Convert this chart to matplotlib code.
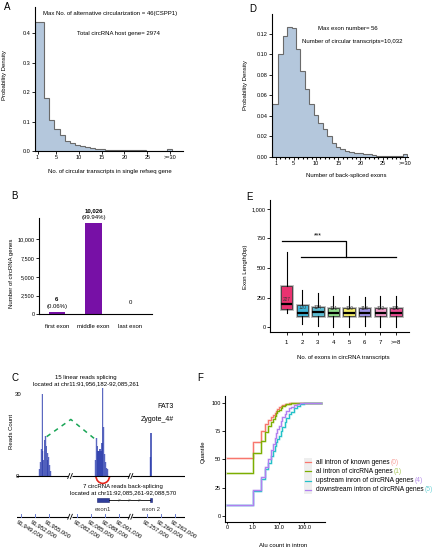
import numpy as np
import matplotlib
matplotlib.use('Agg')
import matplotlib.pyplot as plt
from matplotlib.patches import Rectangle, Arc
from matplotlib.lines import Line2D
import matplotlib.patheffects as pe

plt.rcParams['font.family'] = ['Liberation Sans', 'DejaVu Sans']
plt.rcParams['axes.linewidth'] = 0.8

W, H = 438, 553

# ---------------- data ----------------
# A: circular transcripts per refseq gene (26 bins, last one is >=30)
a_density = [0.439, 0.179, 0.104, 0.074, 0.054, 0.034, 0.026, 0.020, 0.017, 0.012,
             0.009, 0.007, 0.006, 0.005, 0.004, 0.004, 0.003, 0.003, 0.002, 0.002,
             0.002, 0.001, 0.001, 0.001, 0.001, 0.006]
a_ticks = [1, 5, 10, 15, 20, 25, 30]
a_ticklabels = ['1', '5', '10', '15', '20', '25', '>=30']

# D: back-spliced exons per circRNA (1..29, >=30)
d_density = [0.052, 0.100, 0.118, 0.127, 0.126, 0.105, 0.084, 0.066, 0.052, 0.041,
             0.033, 0.027, 0.020, 0.014, 0.010, 0.008, 0.006, 0.005, 0.004, 0.004,
             0.003, 0.003, 0.002, 0.0012, 0.001, 0.001, 0.001, 0.001, 0.0008, 0.003]
d_ticks = [1, 5, 10, 15, 20, 25, 30]
d_ticklabels = ['1', '5', '10', '15', '20', '25', '>=30']

# B: position of circularized exons
b_categories = ['first exon', 'middle exon', 'last exon']
b_heights = [350, 12200, 0]
b_counts = ['6', '10,026', '0']
b_pcts = ['(0.06%)', '(99.94%)', '']

# E: exon length by number of exons in circRNA
e_labels = ['1', '2', '3', '4', '5', '6', '7', '>=8']
e_whislo = [116, 25, 11, 3, 3, 12, 3, 0]
e_q1 = [150, 94, 94, 92, 92, 93, 92, 92]
e_med = [192, 122, 124, 121, 120, 121, 121, 121]
e_q3 = [347, 184, 167, 164, 164, 164, 164, 164]
e_whishi = [638, 313, 290, 263, 263, 255, 263, 263]
e_means = ['227', '120', '124', '121', '120', '118', '122', '121']
e_colors = ['#ea3370', '#3fb5d8', '#5cbcd2', '#8fdc8a', '#f2ec68', '#9d91e6', '#f39ac8', '#e94c92']

# C: FAT3 coverage track (genomic coordinates on chr11)
c_windows = [(91948200, 91959560), (92080440, 92093400), (92253530, 92265200)]
c_cov_pos = [91953000, 91953215, 91953430, 91953600, 91953750, 91953965, 91954140,
             91954300, 91954470, 91954640, 91954820, 91955000, 91955190, 91955400,
             92085900, 92086070, 92086265, 92086435, 92086650, 92086865, 92087080,
             92087290, 92087465, 92087635, 92087830, 92088040, 92088255, 92088470,
             92257800, 92257910]
c_cov_h = [2.5, 5, 10, 30, 9, 6, 13, 14.5, 11, 6, 8.4, 7, 4, 2,
           6, 14, 11, 9, 9, 10, 9, 12, 32.3, 18, 8, 5, 3, 2.5,
           7, 15.7]
c_linear_junction = (91954560, 92085790)
c_linear_arc_h = [14.4, 20.7, 13.5]
c_backsplice = (92086000, 92088900)
c_exons = [(92086160, 92088860), (92257650, 92258080)]
c_ticks = [91949000, 91952000, 91955000, 92082000, 92085000, 92088000, 92091000,
           92257000, 92260000, 92263000]

# F: cumulative Alu count in introns
f_x = [0, 1, 2, 3, 4, 5, 6, 7, 8, 9, 10, 12, 14, 17, 20, 25, 30, 40, 50, 70, 100, 150, 250, 450]
f_known = [51, 65.6, 75, 81, 84.8, 87.2, 89.3, 91.2, 93, 94.8, 96, 97.2, 98, 98.7, 99.1,
           99.4, 99.6, 99.8, 99.9, 99.95, 100, 100, 100, 100]
f_circ = [38.3, 55.4, 66.3, 74, 79.8, 82.7, 85.5, 88.5, 90.8, 92.5, 94, 95.8, 97, 98,
          98.7, 99.2, 99.5, 99.75, 99.9, 99.95, 100, 100, 100, 100]
f_up = [9.4, 22.4, 32.7, 41.5, 46.5, 53.3, 57.5, 61.5, 65, 68, 71, 75.5, 79, 83,
        86.3, 89.8, 92.3, 95.5, 97.3, 99, 99.7, 100, 100, 100]
f_down = [9.4, 23, 34.7, 43.6, 50.4, 58.3, 63.5, 68.5, 73, 76.5, 79.5, 84, 87.3, 90.5,
          92.8, 95.3, 96.7, 98.3, 99.1, 99.8, 99.95, 100, 100, 100]
f_names = ['all intron of known genes', 'al intron of circRNA genes',
           'upstream inron of circRNA genes', 'downstream intron of circRNA genes']
f_tags = ['(0)', '(1)', '(4)', '(5)']

# ---------------- helpers ----------------
fig = plt.figure(figsize=(W / 100, H / 100), dpi=100)


def px_axes(l, t, r, b):
    return fig.add_axes([l / W, 1 - b / H, (r - l) / W, (b - t) / H])


def ftext(x, y, s, **kw):
    kw.setdefault('ha', 'center')
    kw.setdefault('va', 'center')
    kw.setdefault('fontsize', 4.3)
    return fig.text(x / W, 1 - y / H, s, **kw)


def style(ax):
    for s in ['top', 'right']:
        ax.spines[s].set_visible(False)
    ax.tick_params(labelsize=4, length=2, width=0.6, pad=1.2)


hist_fill = '#b4c7dc'
hist_edge = '#6a6a6a'

# ---------------- A ----------------
axA = px_axes(35, 7, 183, 151)
style(axA)
a_x0 = 0.42
a_edges = np.r_[a_x0, 1.33 + 1.115 * np.arange(1, len(a_density) + 1)]
axA.stairs(a_density, a_edges, fill=True, color=hist_fill)
axA.stairs(a_density, a_edges, color=hist_edge, lw=0.8)
axA.set_xlim(a_x0, 32.8)
axA.set_ylim(0, 0.49)
axA.set_xticks(a_ticks, a_ticklabels)
axA.set_yticks([0, 0.1, 0.2, 0.3, 0.4], ['0.0', '0.1', '0.2', '0.3', '0.4'])
ftext(110, 14, 'Max No. of alternative circularization = 46(CSPP1)', fontsize=4.3)
ftext(118, 33, 'Total circRNA host gene= 2974', fontsize=4.3)
ftext(110, 172, 'No. of circular transcripts in single refseq gene')
ftext(5, 75, 'Probability Density', rotation=90)
ftext(7.5, 7, 'A', fontsize=7)

# ---------------- D ----------------
axD = px_axes(272, 14, 408, 157)
style(axD)
d_edges = np.r_[0.1, np.arange(1.5, len(d_density) + 1.5)]
axD.stairs(d_density, d_edges, fill=True, color=hist_fill)
axD.stairs(d_density, d_edges, color=hist_edge, lw=0.8)
axD.set_xlim(0.1, 30.7)
axD.set_ylim(0, 0.1395)
axD.set_xticks(d_ticks, d_ticklabels)
axD.set_xticks(range(1, len(d_density) + 1), minor=True)
axD.tick_params(which='minor', length=1.5, width=0.8)
yt = [0, 0.02, 0.04, 0.06, 0.08, 0.10, 0.12]
axD.set_yticks(yt, ['%.2f' % v for v in yt])
ftext(348, 28, 'Max exon number= 56', fontsize=4.3)
ftext(352, 41.5, 'Number of circular transcripts=10,032', fontsize=4.3)
ftext(346, 175.5, 'Number of back-spliced exons')
ftext(246, 85, 'Probability Density', rotation=90)
ftext(252.5, 8.5, 'D', fontsize=7)

# ---------------- B ----------------
axB = px_axes(39, 218, 152, 314.3)
style(axB)
bx = np.arange(len(b_categories))
axB.bar(bx, b_heights, width=0.44, color='#7710a6')
axB.set_xlim(-0.49, 2.6)
axB.set_ylim(0, 12840)
axB.set_xticks(bx, b_categories)
axB.tick_params(axis='x', length=0, pad=7, labelsize=4.3)
axB.set_yticks([0, 2500, 5000, 7500, 10000], ['0', '2,500', '5,000', '7,500', '10,000'])
for i in bx:
    axB.annotate(b_counts[i], (bx[i], b_heights[i]), xytext=(0, 8.7), textcoords='offset points',
                 ha='center', va='center', fontsize=4.3,
                 fontweight='bold' if b_heights[i] > 0 else 'normal', annotation_clip=False)
    if b_pcts[i]:
        axB.annotate(b_pcts[i], (bx[i], b_heights[i]), xytext=(0, 3.8), textcoords='offset points',
                     ha='center', va='center', fontsize=4.3, annotation_clip=False)
ftext(12, 273, 'Number of circRNA genes', rotation=90)
ftext(14, 196, 'B', fontsize=7)

# ---------------- E ----------------
axE = px_axes(270, 200, 409, 332)
style(axE)
stats = [dict(whislo=e_whislo[i], q1=e_q1[i], med=e_med[i], q3=e_q3[i],
              whishi=e_whishi[i], fliers=[]) for i in range(len(e_labels))]
epos = np.arange(1, len(e_labels) + 1)
bp = axE.bxp(stats, positions=epos, widths=0.74, patch_artist=True, showcaps=False,
             boxprops=dict(edgecolor='#3a3a3a', linewidth=0.6),
             medianprops=dict(color='black', linewidth=1.6),
             whiskerprops=dict(color='black', linewidth=0.8))
for box, c in zip(bp['boxes'], e_colors):
    box.set_facecolor(c)
    box.set_path_effects([pe.withStroke(linewidth=2.0, foreground='#b5b5b5')])
for i, lab in enumerate(e_means):
    axE.text(epos[i], e_med[i] + 40, lab, ha='center', va='center', fontsize=3.4, color='#333333')
axE.plot([0.7, 4.8, 4.8], [729, 729, 589], color='black', lw=0.9)
axE.plot([1.9, 8.0], [589, 589], color='black', lw=0.9)
axE.text(3.0, 772, '***', ha='center', va='center', fontsize=5)
axE.set_xlim(-0.07, 8.84)
axE.set_ylim(-42, 1076)
axE.set_xticks(epos, e_labels)
axE.tick_params(axis='x', length=2.5, pad=3.5, labelsize=4.3)
axE.set_yticks([0, 250, 500, 750, 1000], ['0', '250', '500', '750', '1,000'])
ftext(343, 358, 'No. of exons in circRNA transcripts')
ftext(246, 267, 'Exon Length(bp)', rotation=90)
ftext(249, 197, 'E', fontsize=7)

# ---------------- C ----------------
axC = px_axes(17, 380, 185, 530)
axC.axis('off')
c_bp_per_unit = 214.1
c_starts = np.array([w[0] for w in c_windows])
c_offsets = np.r_[0, np.cumsum([(w[1] - w[0]) / c_bp_per_unit for w in c_windows])]


def gx(g):
    g = np.atleast_1d(np.asarray(g, dtype=float))
    idx = np.searchsorted(c_starts, g, side='right') - 1
    return c_offsets[idx] + (g - c_starts[idx]) / c_bp_per_unit


c_total = c_offsets[-1]
axC.set_xlim(0, c_total)
axC.set_ylim(-19.76, 35.13)

cx = gx(c_cov_pos)
axC.bar(cx, c_cov_h, width=2.4, color='#8c98de', alpha=0.3, linewidth=0)
axC.bar(cx, c_cov_h, width=1.1, color='#2b3cab', alpha=0.72, linewidth=0)
axC.plot([0, c_total], [0, 0], color='black', lw=0.8)

jl, jr = gx(c_linear_junction)
axC.plot([jl, (jl + jr) / 2, jr], c_linear_arc_h, color='#19a556', lw=1.1, dashes=(3, 3))
bl, br = gx(c_backsplice)
axC.add_patch(Arc(((bl + br) / 2, 0), br - bl, 5.4, theta1=180, theta2=360,
                  color='#e4261b', lw=1.2))

y_gene = -8.8
e1 = gx(c_exons[0])
e2 = gx(c_exons[1])
axC.plot([e1[1], e2[0]], [y_gene, y_gene], color='black', lw=0.6)
for ex in (e1, e2):
    axC.add_patch(Rectangle((ex[0], y_gene - 0.75), ex[1] - ex[0], 1.5,
                            facecolor='#2f3e9c', edgecolor='#1c2570', lw=0.4))
for ax_x in np.linspace(e1[1], e2[0], 5)[1:-1]:
    axC.text(ax_x, y_gene, '>', ha='center', va='center', fontsize=4, color='#444444')

y_coord = -14.9
axC.plot([0, c_total], [y_coord, y_coord], color='black', lw=0.8)


def break_mark(x, y):
    axC.plot([x - 1.6, x + 1.6], [y, y], color='white', lw=2.5, solid_capstyle='butt', zorder=3)
    for dx in (-1.3, 1.3):
        axC.plot([x + dx - 1.0, x + dx + 1.0], [y - 0.9, y + 0.9], color='black', lw=0.6, zorder=4)


for bx_ in c_offsets[1:-1]:
    break_mark(bx_, 0)
    break_mark(bx_, y_coord)

tx = gx(c_ticks)
for t, g in zip(tx, c_ticks):
    axC.plot([t, t], [y_coord, y_coord + 0.9], color='#6d80d2', lw=0.7)
    axC.text(t - 2.5, y_coord - 0.7, format(g, ','), rotation=-32, rotation_mode='anchor',
             ha='left', va='top', fontsize=4.3)

axC.text(0.8, 30, '30', ha='center', va='center', fontsize=4.3)
axC.text(0.8, 0, '0', ha='center', va='center', fontsize=4.3)
axC.text(69, 35, '15 linear reads splicing\nlocated at chr11:91,956,182-92,085,261',
         ha='center', va='center', fontsize=4.3, linespacing=1.25)
axC.text(106, -4.9, '7 circRNA reads back-splicing\nlocated at chr11:92,085,261-92,088,570',
         ha='center', va='center', fontsize=4.3, linespacing=1.25)
axC.text(149, 25.4, 'FAT3', ha='center', va='center', fontsize=5)
axC.text(140, 20.5, 'Zygote_4#', ha='center', va='center', fontsize=5)
axC.text(e1.mean(), -12.1, 'exon1', ha='center', va='center', fontsize=4.3, color='#333333')
axC.text(e2.mean(), -12.1, 'exon 2', ha='center', va='center', fontsize=4.3, color='#333333')
ftext(11.7, 431, 'Reads Count', rotation=90)
ftext(15, 378, 'C', fontsize=7)

# ---------------- F ----------------
axF = px_axes(225, 396, 325, 521.7)
style(axF)
axF.set_xscale('symlog', linthresh=1, linscale=0.9)
f_colors = ['#f8766d', '#7cae00', '#22c1c8', '#b07ff0']
for ys, c in zip([f_known, f_circ, f_up, f_down], f_colors):
    axF.step(f_x, ys, where='post', color=c, lw=2.0, alpha=0.25)
    axF.step(f_x, ys, where='post', color=c, lw=0.8)
axF.set_xlim(-0.078, 630)
axF.set_ylim(-5, 106)
axF.set_xticks([0, 1, 10, 100], ['0', '1.0', '10.0', '100.0'])
axF.xaxis.set_minor_locator(matplotlib.ticker.NullLocator())
axF.set_yticks([0, 25, 50, 75, 100])
axF.tick_params(axis='x', length=1.5)
ftext(283, 545.5, 'Alu count in intron')
ftext(203, 452, 'Quantile', rotation=90)
ftext(200, 378, 'F', fontsize=7)

# legend
f_tag_colors = ['#f7a19b', '#a9c95a', '#b58ce9', '#6fd3d7']
row_y = 462.3 + 9.1 * np.arange(len(f_names))
name_texts = []
for i, yy in enumerate(row_y):
    fig.add_artist(Rectangle((304 / W, 1 - (yy + 4.3) / H), 8.3 / W, 8.6 / H,
                             transform=fig.transFigure, facecolor='#eeeeee', edgecolor='none'))
    fig.add_artist(Line2D([305 / W, 311 / W], [1 - yy / H, 1 - yy / H],
                          transform=fig.transFigure, color=f_colors[i], lw=0.9))
    name_texts.append(ftext(315.7, yy, f_names[i], ha='left', fontsize=4.8))
fig.canvas.draw()
rend = fig.canvas.get_renderer()
for i, t in enumerate(name_texts):
    bb = t.get_window_extent(renderer=rend)
    fig.text((bb.x1 + 1.2) / W, 1 - row_y[i] / H, f_tags[i], ha='left', va='center',
             fontsize=4.8, color=f_tag_colors[i])

fig.savefig('out.png', dpi=100)
